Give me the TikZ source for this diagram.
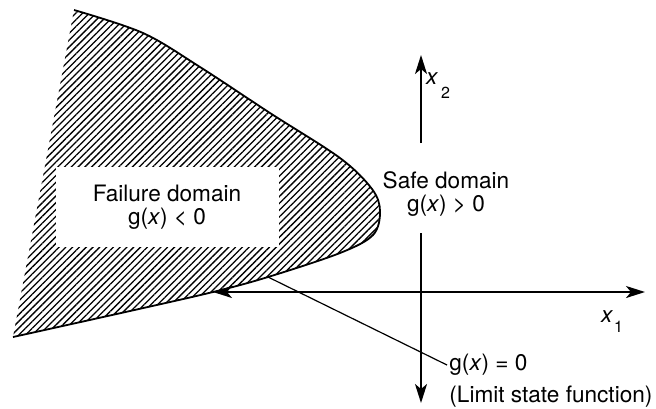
\documentclass[tikz,border=0pt]{standalone}
\usepackage{fontspec}
\setmainfont{TeX Gyre Heros}
\usetikzlibrary{arrows.meta,patterns.meta}
\newcommand{\lsfcurve}{plot[smooth,tension=0.55] coordinates {(74,10) (143,33) (200,67) (270,113) (340,158) (372,189) (380,211) (373,235) (340,253) (268,277) (213,292) (130,311) (13,337)}}

\begin{document}
\begin{tikzpicture}[x=0.5pt,y=-0.5pt,>={Stealth[length=9.5pt,width=6pt,inset=2.5pt]},
    every node/.style={font=\fontsize{11.3}{11.3}\selectfont,align=center},
    axis/.style={->,line width=1pt}]
    \useasboundingbox (0,0) rectangle (656,408);

    \fill[pattern={Lines[angle=45,distance=2.4pt,line width=0.65pt]}] \lsfcurve -- cycle;
    \draw[line width=0.9pt] \lsfcurve;

    \node[fill=white,minimum width=111.5pt,minimum height=40pt,inner sep=0pt] (fail) at (167,207) {Failure domain\\g(\textit{x}) < 0};
    \node (safe) at (446,194) {Safe domain\\g(\textit{x}) > 0};

    \coordinate (tip) at (213,292);
    \coordinate (foot) at (268,277);
    \coordinate (xend) at (645,292);
    \coordinate (ytop) at (421,55);
    \coordinate (ybot) at (421,403);
    \coordinate (yup) at (421,143);
    \coordinate (ydown) at (421,233);

    \draw[axis,<->] (tip) -- (xend);
    \draw[axis] (yup) -- (ytop);
    \draw[axis] (ydown) -- (ybot);

    \node (xtwo) at (438,86) {\textit{x}\hspace{1.5pt}\raisebox{-7pt}{\footnotesize 2}};
    \node (xone) at (612,322) {\textit{x}\hspace{0.5pt}\raisebox{-5pt}{\footnotesize 1}};

    \node[anchor=west,inner sep=1pt] (lsf) at (447,365) {g(\textit{x}) = 0};
    \node[anchor=west,inner sep=1pt] (lsfname) at (447,397) {(Limit state function)};
    \draw[line width=0.6pt] (foot) -- (lsf.west);
\end{tikzpicture}
\end{document}
